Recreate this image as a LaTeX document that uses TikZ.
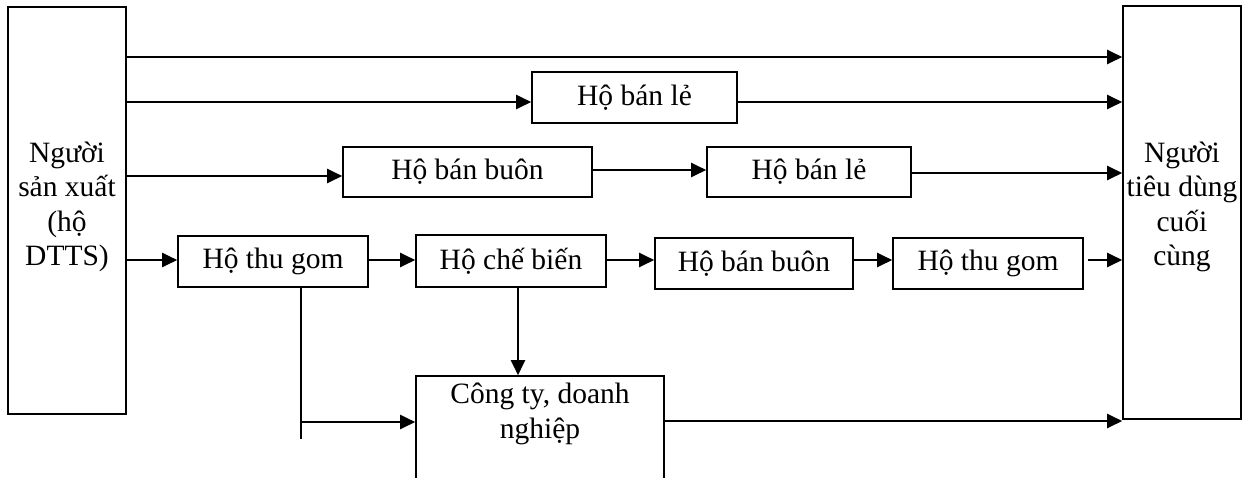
\documentclass[tikz,border=0pt]{standalone}
\usepackage{fontspec}
\setmainfont{Liberation Serif}
\usetikzlibrary{arrows.meta}
\begin{document}
\begin{tikzpicture}[x=1pt,y=-1pt,
  box/.style={draw,line width=1.6pt,rectangle,inner sep=0pt,
    font=\fontsize{29.5}{34.5}\selectfont},
  txt/.style={inner sep=0pt,align=center,font=\fontsize{29.5}{34.5}\selectfont},
  conn/.style={line width=2.1pt},
  arr/.style={conn,-{Triangle[length=15pt,width=14pt]}}]
\useasboundingbox (0,0) rectangle (1249,477);
\clip (0,0) rectangle (1249,477);
% main boxes
\node[box,minimum width=118pt,minimum height=407pt] (L) at (67,210.5) {};
\node[txt] (Lt) at (67,207) {Người\\sản xuất\\(hộ\\DTTS)};
\node[box,minimum width=118pt,minimum height=413pt] (R) at (1182,212.5) {};
\node[txt] (Rt) at (1182,207) {Người\\tiêu dùng\\cuối\\cùng};
% chain boxes
\node[box,minimum width=205pt,minimum height=51pt] (bl1) at (634.5,97.5) {Hộ bán lẻ};
\node[box,minimum width=249pt,minimum height=50pt] (bb1) at (467.5,172) {Hộ bán buôn};
\node[box,minimum width=204pt,minimum height=50pt] (bl2) at (809,172) {Hộ bán lẻ};
\node[box,minimum width=190pt,minimum height=51pt] (tg1) at (273,261.5) {Hộ thu gom};
\node[box,minimum width=190pt,minimum height=52pt] (cb) at (511,261) {Hộ chế biến};
\node[box,minimum width=198pt,minimum height=51pt] (bb2) at (754,263.5) {Hộ bán buôn};
\node[box,minimum width=190pt,minimum height=51pt] (tg2) at (988,263.5) {Hộ thu gom};
\node[box,minimum width=248pt,minimum height=154pt] (co) at (540,453) {};
\node[txt,anchor=north] (cot) at (540,383) {Công ty, doanh\\nghiệp};
% row 1
\draw[arr] (L.east |- 0,57) -- (R.west |- 0,57);
% row 2
\draw[arr] (L.east |- 0,102) -- (bl1.west |- 0,102);
\draw[arr] (bl1.east |- 0,102) -- (R.west |- 0,102);
% row 3
\draw[arr] (L.east |- 0,176) -- (bb1.west |- 0,176);
\draw[arr] (bb1.east |- 0,170) -- (bl2.west |- 0,170);
\draw[arr] (bl2.east |- 0,173) -- (R.west |- 0,173);
% row 4
\draw[arr] (L.east |- 0,260) -- (tg1.west |- 0,260);
\draw[arr] (tg1.east |- 0,260) -- (cb.west |- 0,260);
\draw[arr] (cb.east |- 0,260) -- (bb2.west |- 0,260);
\draw[arr] (bb2.east |- 0,260) -- (tg2.west |- 0,260);
\draw[arr] ([xshift=4pt]tg2.east |- 0,260) -- (R.west |- 0,260);
% down branches
\draw[arr] (cb.south -| 518,0) -- (co.north -| 518,0);
\coordinate (tgEnd) at (301,439);
\draw[conn] (tg1.south -| 301,0) -- (tgEnd);
\draw[arr] (301,422) -- (co.west |- 0,422);
\draw[arr] (co.east |- 0,421) -- (R.west |- 0,421);
\end{tikzpicture}
\end{document}
